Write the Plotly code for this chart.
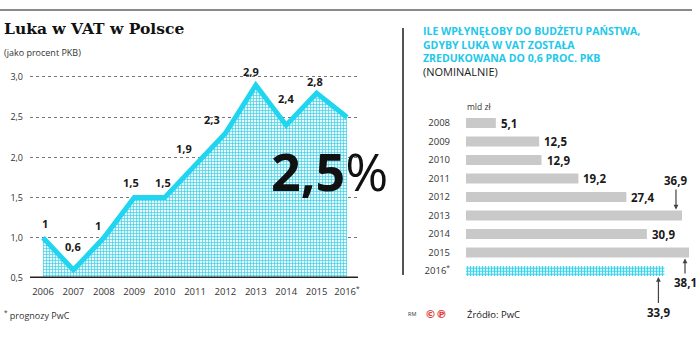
import plotly.graph_objects as go

# ---------------- data ----------------
years = [2006, 2007, 2008, 2009, 2010, 2011, 2012, 2013, 2014, 2015, 2016]
year_labels = ["2006", "2007", "2008", "2009", "2010", "2011", "2012", "2013", "2014", "2015", "2016<sup>*</sup>"]
gap_pct = [1.0, 0.6, 1.0, 1.5, 1.5, 1.9, 2.3, 2.9, 2.4, 2.8, 2.5]
y_ticks = [0.5, 1.0, 1.5, 2.0, 2.5, 3.0]

bar_years = ["2008", "2009", "2010", "2011", "2012", "2013", "2014", "2015", "2016<sup>*</sup>"]
bar_values = [5.1, 12.5, 12.9, 19.2, 27.4, 36.9, 30.9, 38.1, 33.9]

W, H = 696, 348
CYAN = "#1FD5F0"
CYAN_T = "#22C8EA"
GRAY_BAR = "#C9C9C9"
TXT = "#1a1a1a"
FONT = "Open Sans"


def px(x):
    return x / W


def py(y):
    return 1 - y / H


def pl(v):
    s = f"{v:.1f}".replace(".", ",")
    return s[:-2] if s.endswith(",0") else s


def label(x, y, text, size, color="#222", family=FONT, xanchor="left", align="left"):
    fig.add_annotation(x=px(x), y=py(y), xref="paper", yref="paper",
                       xanchor=xanchor, yanchor="middle", text=text, showarrow=False,
                       align=align, font=dict(family=family, size=size, color=color))


fig = go.Figure()

# ---------------- left: line/area chart ----------------
fig.add_trace(go.Scatter(
    x=years, y=gap_pct, mode="lines",
    line=dict(color=CYAN, width=5, shape="linear"),
    fill="tozeroy", fillcolor="#D4F5FB",
    fillpattern=dict(shape="+", size=3, solidity=0.4, fgcolor="#3CCFE8", bgcolor="#E6FAFD", fillmode="replace"),
    xaxis="x", yaxis="y", hoverinfo="skip", showlegend=False,
))

# label offsets (pixels) for each point, style only
lab_dx = [2, 0, -6, -3, -2, -11, -13, -5, 0, -2, None]
lab_dy = [14, 23, 12, 15, 15, 17, 14, 14, 27, 12, None]
for yr, v, dx, dy in zip(years, gap_pct, lab_dx, lab_dy):
    if dx is None:
        continue
    fig.add_annotation(x=yr, y=v, xref="x", yref="y", text=f"<b>{pl(v)}</b>",
                       showarrow=False, xshift=dx, yshift=dy,
                       font=dict(family=FONT, size=11, color=TXT))

# big 2,5%
label(329, 170, f"<b>{pl(gap_pct[-1])}</b>%", 52, color="#111", xanchor="center")

# baseline
fig.add_shape(type="line", xref="x domain", yref="y", x0=0, x1=1, y0=0.5, y1=0.5,
              line=dict(color="#222", width=3))

# ---------------- right: bar chart ----------------
rows = list(range(len(bar_years)))
fig.add_trace(go.Bar(
    y=rows[:-1], x=bar_values[:-1], orientation="h",
    marker=dict(color=GRAY_BAR, line=dict(width=0)), width=0.55,
    xaxis="x2", yaxis="y2", hoverinfo="skip", showlegend=False,
))
fig.add_trace(go.Bar(
    y=rows[-1:], x=bar_values[-1:], orientation="h",
    marker=dict(color="#CFF4FB", line=dict(width=0),
                pattern=dict(shape="+", size=3, solidity=0.5, fgcolor="#2FD0EC", bgcolor="#DDF8FD", fillmode="replace")),
    width=0.55, xaxis="x2", yaxis="y2", hoverinfo="skip", showlegend=False,
))

special = {5: (-6, 6, 0, -29), 7: (-4, -6, 0, 24), 8: (-6, -6, 0, 35)}
for r, v in zip(rows, bar_values):
    if r in special:
        xs, ys, ax, ay = special[r]
        fig.add_annotation(x=v, y=r, xref="x2", yref="y2", text=f"<b>{pl(v)}</b>",
                           showarrow=True, arrowhead=2, arrowsize=0.8, arrowwidth=1.2,
                           arrowcolor="#444", xshift=xs, yshift=ys, ax=ax, ay=ay,
                           standoff=0, startstandoff=0,
                           font=dict(family=FONT, size=11.5, color=TXT))
    else:
        fig.add_annotation(x=v, y=r, xref="x2", yref="y2", text=f"<b>{pl(v)}</b>",
                           showarrow=False, xanchor="left", xshift=3,
                           font=dict(family=FONT, size=11.5, color=TXT))

# ---------------- layout ----------------
fig.update_layout(
    width=W, height=H, margin=dict(l=0, r=0, t=0, b=0, pad=0, autoexpand=False),
    paper_bgcolor="white", plot_bgcolor="rgba(0,0,0,0)",
    barmode="overlay",
    xaxis=dict(domain=[px(30), px(358)], range=[2005.572, 2016.362], automargin=False,
               tickvals=years, ticktext=year_labels, showgrid=False, zeroline=False,
               showline=False, ticks="", ticklabelstandoff=6,
               tickfont=dict(family=FONT, size=9.5, color="#333"), fixedrange=True),
    yaxis=dict(domain=[py(278), py(70)], range=[0.5, 3.087], automargin=False,
               tickvals=y_ticks, ticktext=[f"{t:.1f}".replace(".", ",") for t in y_ticks],
               showgrid=True, gridcolor="#777", griddash="dot", gridwidth=1,
               zeroline=False, showline=False, ticks="", ticklabelstandoff=6,
               tickfont=dict(family=FONT, size=9, color="#333"), fixedrange=True),
    xaxis2=dict(domain=[px(466), 1], range=[0, (696 - 466) / 5.853], visible=False,
                automargin=False, anchor="y2", fixedrange=True),
    yaxis2=dict(domain=[py(280.25), py(113.75)], range=[len(rows) - 0.5, -0.5],
                tickvals=rows, ticktext=bar_years, automargin=False,
                showgrid=False, zeroline=False, showline=False,
                ticks="", ticklabelstandoff=15, anchor="x2",
                tickfont=dict(family=FONT, size=9.5, color="#333"), fixedrange=True),
)

# decorative lines
fig.add_shape(type="line", xref="paper", yref="paper", x0=0, x1=px(692), y0=py(10), y1=py(10),
              line=dict(color="#8a8a8a", width=2))
fig.add_shape(type="line", xref="paper", yref="paper", x0=px(403), x1=px(403), y0=py(28), y1=py(275),
              line=dict(color="#555", width=2))

# texts
label(2, 28, "<b>Luka w VAT w Polsce</b>", 15.5, color="#111", family="DejaVu Serif")
label(2, 52, "(jako procent PKB)", 9, color="#333")
label(2, 315, "<sup>*</sup> prognozy PwC", 9, color="#333")

right_title = ["ILE WPŁYNĘŁOBY DO BUDŻETU PAŃSTWA,", "GDYBY LUKA W VAT ZOSTAŁA",
               "ZREDUKOWANA DO 0,6 PROC. PKB"]
label(421, 45, "<br>".join(f"<b>{t}</b>" for t in right_title), 10.5, color=CYAN_T)
label(421, 71, "(NOMINALNIE)", 11, color="#222")
label(465, 106, "mld zł", 8.5, color="#333")
label(406, 314, "RM", 5.5, color="#333")
label(423, 314, "<b>©℗</b>", 11, color="#E23A3A", family="DejaVu Sans")
label(465, 314, "Źródło: PwC", 9.5, color="#222")

fig.write_html("out.html")
